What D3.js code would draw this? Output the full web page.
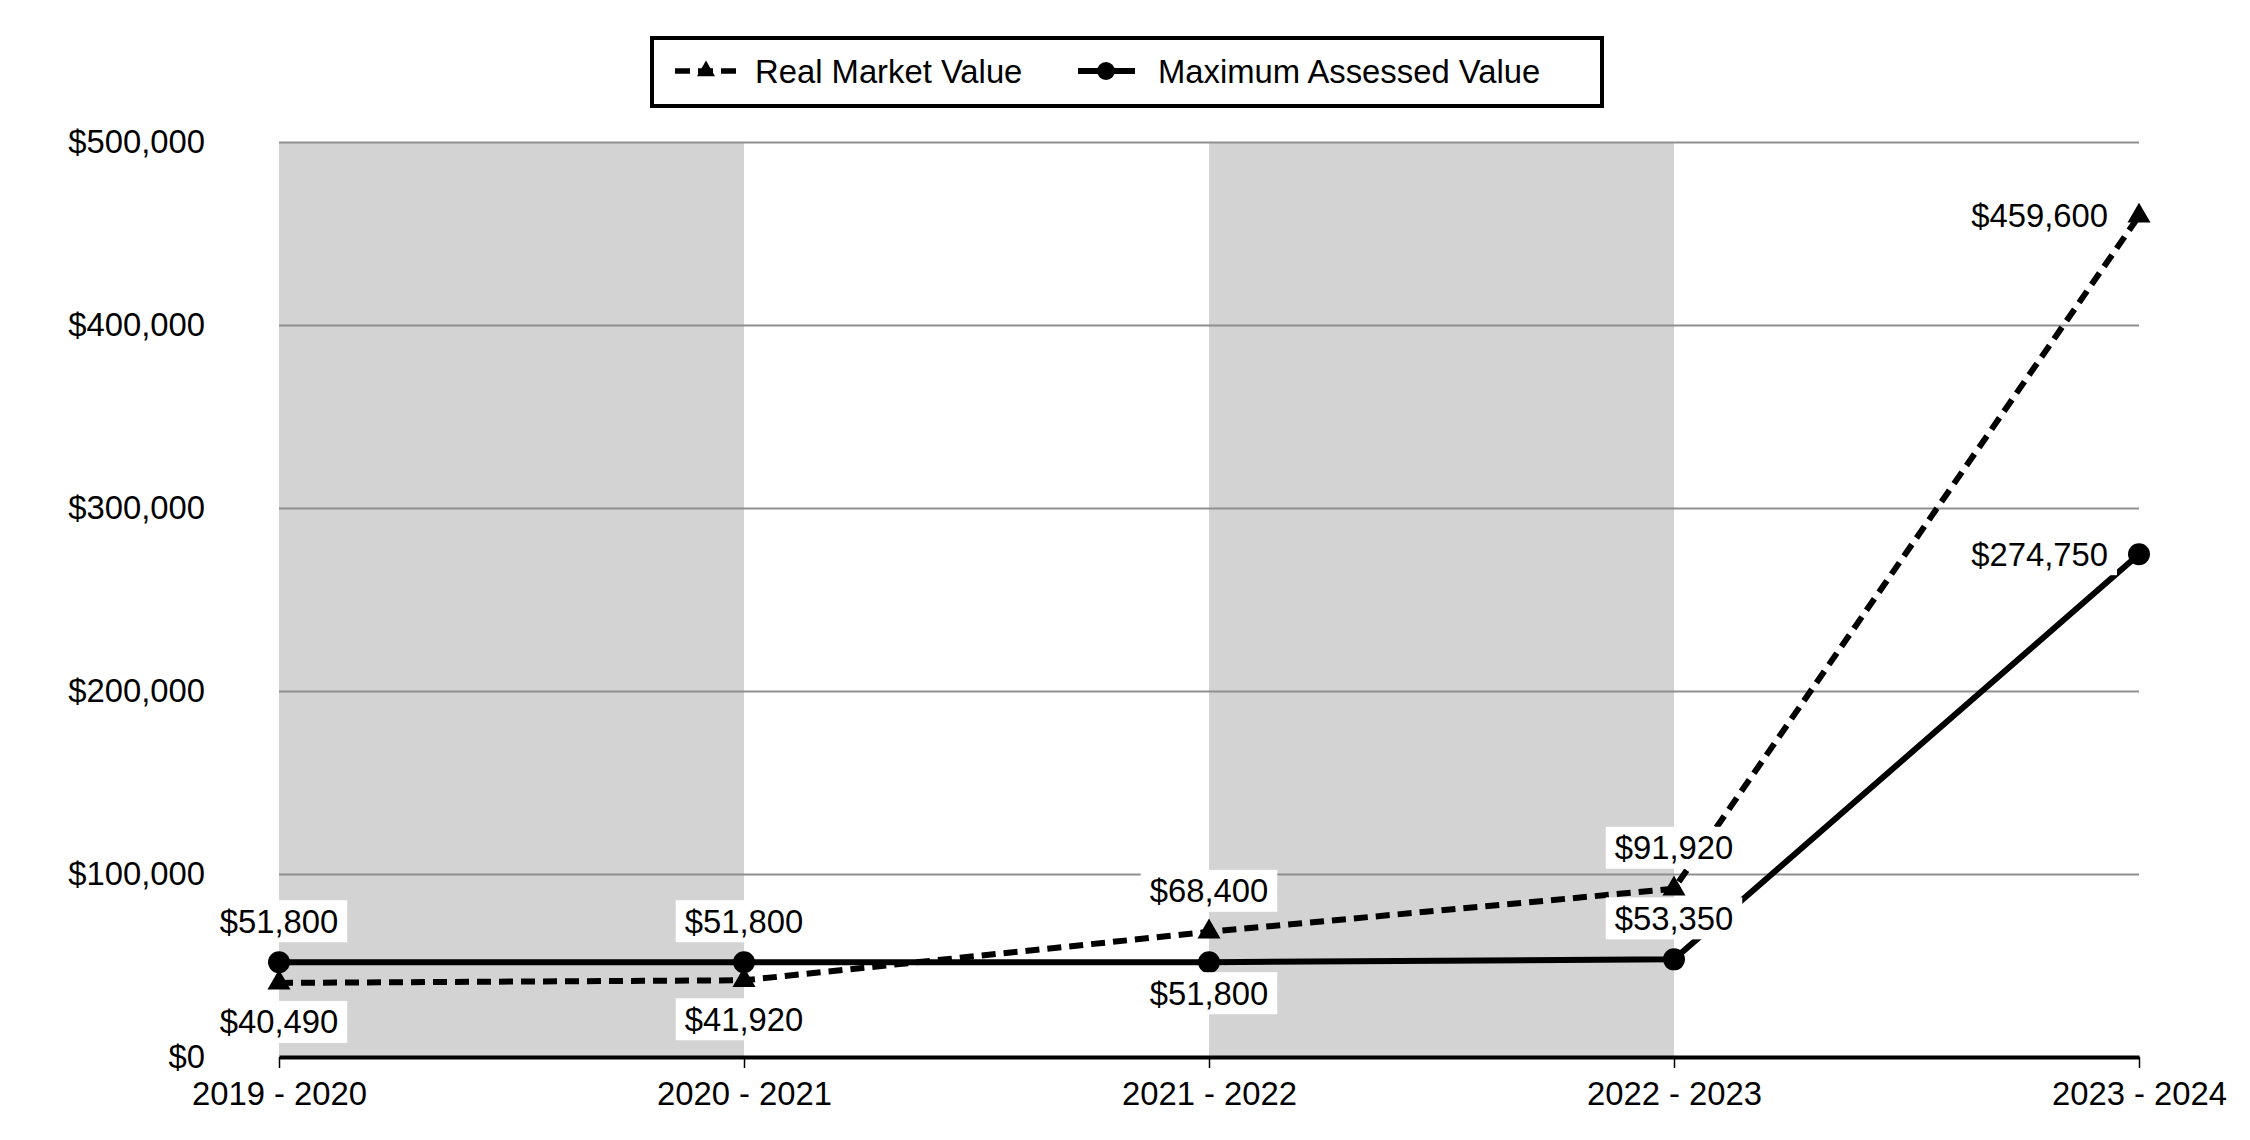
<!DOCTYPE html>
<html>
<head>
<meta charset="utf-8">
<script src="https://cdn.jsdelivr.net/npm/d3@7"></script>
<style>
  html, body { margin: 0; padding: 0; background: #fff; }
  svg { display: block; font-family: "Liberation Sans", Arial, sans-serif; }
</style>
</head>
<body>
<svg id="chart" width="2250" height="1140"></svg>
<script>
const categories = ["2019 - 2020", "2020 - 2021", "2021 - 2022", "2022 - 2023", "2023 - 2024"];
const realMarketValue = [40490, 41920, 68400, 91920, 459600];
const maxAssessedValue = [51800, 51800, 51800, 53350, 274750];
const rmvLabelPlacement = ["below", "below", "above", "above", "left"];
const mavLabelPlacement = ["above", "above", "below", "above", "left"];
const yTicks = [0, 100000, 200000, 300000, 400000, 500000];
const shadedBands = [[0, 1], [2, 3]];
const seriesNames = ["Real Market Value", "Maximum Assessed Value"];

(function () {
const FONT = 32.8;
const svg = d3.select("#chart");
const pLeft = 279, pRight = 2139, pTop = 142, pBottom = 1057;

const x = d3.scalePoint().domain(categories).range([pLeft, pRight]);
const y = d3.scaleLinear().domain([0, 500000]).range([pBottom, pTop]);
const fmt = d3.format("$,");

// shaded bands
svg.append("g").selectAll("rect").data(shadedBands).join("rect")
  .attr("x", d => x(categories[d[0]]))
  .attr("width", d => x(categories[d[1]]) - x(categories[d[0]]))
  .attr("y", y(500000))
  .attr("height", y(0) - y(500000))
  .attr("fill", "#d3d3d3");

// gridlines
const grid = svg.append("g").attr("transform", `translate(${pLeft},0)`)
  .call(d3.axisLeft(y).tickValues(yTicks.filter(v => v > 0)).tickSize(-(pRight - pLeft)).tickFormat(""));
grid.select(".domain").remove();
grid.selectAll("line").attr("stroke", "#8f8f8f").attr("stroke-width", 2);

// y axis labels
const yAxis = svg.append("g").attr("transform", `translate(${pLeft},0)`)
  .call(d3.axisLeft(y).tickValues(yTicks).tickFormat(fmt).tickSize(0).tickPadding(74));
yAxis.select(".domain").remove();
yAxis.selectAll("text").attr("font-size", FONT).attr("fill", "#000")
  .attr("font-family", "Liberation Sans, Arial, sans-serif");

// x axis
const xAxis = svg.append("g").attr("transform", `translate(0,${pBottom})`)
  .call(d3.axisBottom(x).tickSize(11).tickSizeOuter(0).tickPadding(14));
xAxis.select(".domain").attr("stroke", "#000").attr("stroke-width", 4);
xAxis.selectAll(".tick line").attr("stroke", "#000").attr("stroke-width", 1.5);
xAxis.selectAll("text").attr("font-size", FONT).attr("fill", "#000")
  .attr("font-family", "Liberation Sans, Arial, sans-serif");

// lines
const line = d3.line().x((d, i) => x(categories[i])).y(d => y(d));
svg.append("path").datum(realMarketValue).attr("d", line)
  .attr("fill", "none").attr("stroke", "#000").attr("stroke-width", 6)
  .attr("stroke-dasharray", "14,8");
svg.append("path").datum(maxAssessedValue).attr("d", line)
  .attr("fill", "none").attr("stroke", "#000").attr("stroke-width", 6);

// markers
const tri = d3.symbol().type(d3.symbolTriangle).size(230);
svg.append("g").selectAll("path").data(realMarketValue).join("path")
  .attr("d", tri)
  .attr("transform", (d, i) => `translate(${x(categories[i])},${y(d)})`)
  .attr("fill", "#000");
svg.append("g").selectAll("circle").data(maxAssessedValue).join("circle")
  .attr("cx", (d, i) => x(categories[i])).attr("cy", d => y(d)).attr("r", 11)
  .attr("fill", "#000");

// data labels
function addLabels(values, placement, belowOffset) {
  const g = svg.append("g");
  values.forEach((v, i) => {
    const px = x(categories[i]), py = y(v);
    const p = placement[i];
    let cx = px, cy = py, anchor = "middle";
    if (p === "above") cy = py - 41;
    else if (p === "below") cy = py + belowOffset;
    else if (p === "left") { cx = px - 31; anchor = "end"; }
    const lg = g.append("g");
    const rect = lg.append("rect").attr("fill", "#fff");
    const t = lg.append("text").attr("x", cx).attr("y", cy)
      .attr("text-anchor", anchor).attr("dominant-baseline", "central")
      .attr("font-size", FONT).attr("fill", "#000").text(fmt(v));
    const w = t.node().getComputedTextLength();
    const x0 = anchor === "end" ? cx - w : cx - w / 2;
    rect.attr("x", x0 - 9).attr("y", cy - 21).attr("width", w + 18).attr("height", 42);
  });
}
addLabels(realMarketValue, rmvLabelPlacement, 39);
addLabels(maxAssessedValue, mavLabelPlacement, 31);

// legend
const legend = svg.append("g");
legend.append("rect").attr("x", 652).attr("y", 38).attr("width", 950).attr("height", 68)
  .attr("fill", "#fff").attr("stroke", "#000").attr("stroke-width", 4);
const ly = 71;
legend.append("line").attr("x1", 675).attr("x2", 737).attr("y1", ly).attr("y2", ly)
  .attr("stroke", "#000").attr("stroke-width", 5.5).attr("stroke-dasharray", "15,8");
legend.append("path").attr("d", d3.symbol().type(d3.symbolTriangle).size(140))
  .attr("transform", `translate(706,${ly})`).attr("fill", "#000");
legend.append("text").attr("x", 755).attr("y", ly).attr("dominant-baseline", "central")
  .attr("font-size", FONT).text(seriesNames[0]);
legend.append("line").attr("x1", 1078).attr("x2", 1135).attr("y1", ly).attr("y2", ly)
  .attr("stroke", "#000").attr("stroke-width", 6);
legend.append("circle").attr("cx", 1106).attr("cy", ly).attr("r", 9).attr("fill", "#000");
legend.append("text").attr("x", 1158).attr("y", ly).attr("dominant-baseline", "central")
  .attr("font-size", FONT).text(seriesNames[1]);
})();
</script>
</body>
</html>
